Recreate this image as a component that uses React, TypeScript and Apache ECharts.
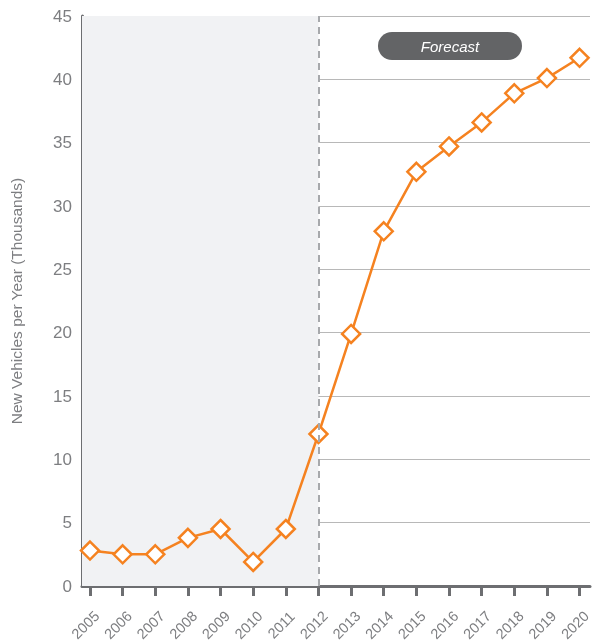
import React, { useEffect, useRef } from "react";
import * as echarts from "echarts";

const years = [2005, 2006, 2007, 2008, 2009, 2010, 2011, 2012, 2013, 2014, 2015, 2016, 2017, 2018, 2019, 2020];
const vehicles = [2.8, 2.5, 2.5, 3.8, 4.5, 1.9, 4.5, 12.0, 19.9, 28.0, 32.7, 34.7, 36.6, 38.9, 40.1, 41.7];
const forecastStart = 2012;
const yAxisTitle = "New Vehicles per Year (Thousands)";
const forecastLabel = "Forecast";

const FONT = "'Liberation Sans Narrow', 'Liberation Sans', Roboto, sans-serif";
const GRAY = "#7d7e81";
const ORANGE = "#f58220";
const X_MIN = 2004.755;
const X_MAX = 2020.32;
const LABEL_SHIFT = -0.14;

export default function App() {
  const ref = useRef<HTMLDivElement>(null);
  useEffect(() => {
    document.body.style.margin = "0";
    const chart = echarts.init(ref.current!, null, { renderer: "svg" });
    chart.setOption({
      animation: false,
      grid: { left: 82, right: 2, top: 16, bottom: 57, outerBoundsMode: "none", containLabel: false },
      xAxis: [
        {
          type: "value",
          position: "bottom",
          min: X_MIN,
          max: X_MAX,
          splitLine: { show: false },
          axisLine: { show: true, lineStyle: { color: "#6d6e71", width: 3 } },
          axisTick: {
            show: true,
            customValues: years,
            length: 10,
            lineStyle: { color: "#6d6e71", width: 3 },
          },
          axisLabel: { show: false },
        },
        {
          type: "value",
          position: "bottom",
          offset: 0,
          min: X_MIN,
          max: X_MAX,
          splitLine: { show: false },
          axisLine: { show: false },
          axisTick: { show: false },
          axisLabel: {
            customValues: years.map((y) => y + LABEL_SHIFT),
            rotate: 45,
            align: "center",
            verticalAlign: "middle",
            margin: 39,
            color: GRAY,
            fontSize: 14.5,
            fontFamily: FONT,
            formatter: (v: number) => String(Math.round(v)),
          },
        },
      ],
      yAxis: {
        type: "value",
        min: 0,
        max: 45,
        interval: 5,
        name: yAxisTitle,
        nameLocation: "middle",
        nameGap: 58,
        nameTextStyle: { color: GRAY, fontSize: 15.5, fontFamily: FONT },
        axisLine: { show: true, lineStyle: { color: "#6d6e71", width: 3 } },
        axisTick: { show: false },
        axisLabel: { color: GRAY, fontSize: 17, fontFamily: FONT, margin: 10 },
        splitLine: { lineStyle: { color: "#b8b8b8", width: 1 } },
      },
      graphic: [
        {
          type: "group",
          left: 378,
          top: 32,
          children: [
            { type: "rect", shape: { x: 0, y: 0, width: 144, height: 28, r: 14 }, style: { fill: "#636466" } },
            {
              type: "text",
              x: 72,
              y: 14,
              style: {
                text: forecastLabel,
                fill: "#ffffff",
                font: `italic 15px ${FONT}`,
                align: "center",
                verticalAlign: "middle",
              },
            },
          ],
        },
      ],
      series: [
        {
          type: "line",
          xAxisIndex: 0,
          data: years.map((y, i) => [y, vehicles[i]]),
          symbol: "diamond",
          symbolSize: 18,
          showAllSymbol: true,
          clip: false,
          lineStyle: { color: ORANGE, width: 2.5 },
          itemStyle: { color: "#ffffff", borderColor: ORANGE, borderWidth: 2.5 },
          markArea: {
            silent: true,
            itemStyle: { color: "#f1f2f4" },
            data: [[{ xAxis: X_MIN }, { xAxis: forecastStart }]],
          },
          markLine: {
            silent: true,
            symbol: "none",
            label: { show: false },
            lineStyle: { color: "#a7a9ac", type: [7, 5], width: 2 },
            data: [{ xAxis: forecastStart }],
          },
          z: 3,
        },
      ],
    });
    return () => chart.dispose();
  }, []);
  return <div ref={ref} style={{ position: "fixed", left: 0, top: 0, width: 592, height: 643 }} />;
}
